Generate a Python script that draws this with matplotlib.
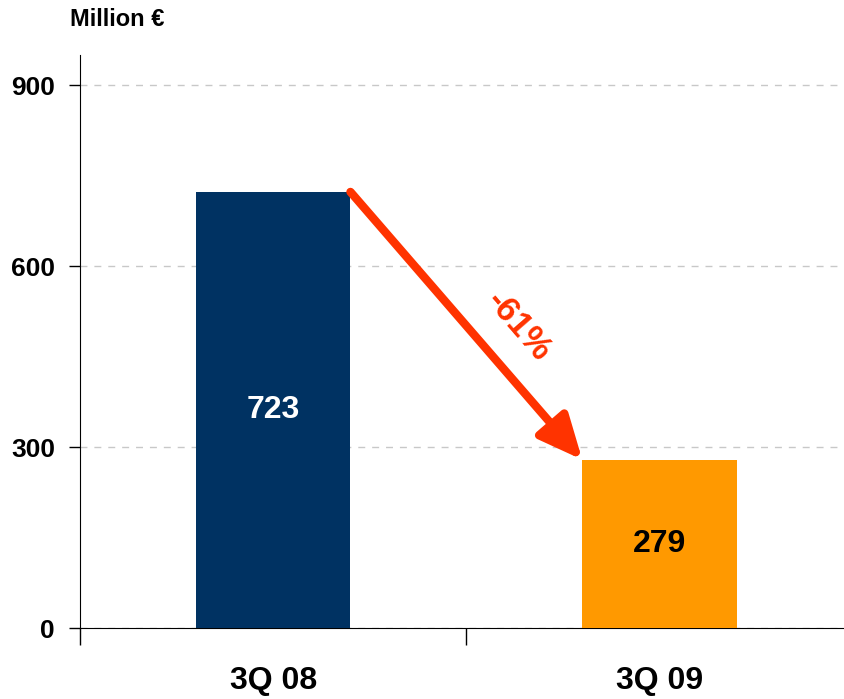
import matplotlib.pyplot as plt

# Данные
categories = ['3Q 08', '3Q 09']
values = [723, 279]
bar_colors = ['#003262', '#ff9900']
label_colors = ['white', 'black']
change_label = '-61%'
y_ticks = [0, 300, 600, 900]

plt.rcParams['font.family'] = ['Liberation Sans', 'DejaVu Sans']
plt.rcParams['font.weight'] = 'bold'

fig = plt.figure(figsize=(8.45, 6.99), dpi=100)
ax = fig.add_axes([80 / 845, 71 / 699, 765 / 845, 573 / 699])

x = list(range(len(categories)))
bars = ax.bar(x, values, width=0.40, color=bar_colors, zorder=3)

# Подписи внутри столбцов
for xi, v, c in zip(x, values, label_colors):
    ax.text(xi, v / 2, str(v), ha='center', va='center', fontsize=23,
            fontweight='bold', color=c, zorder=4)

# Стрелка изменения
ax.annotate('', xy=(x[1] - 0.2, values[1]), xytext=(x[0] + 0.2, values[0]),
            arrowprops=dict(arrowstyle='-|>,head_length=1.1,head_width=0.5',
                            lw=6, color='#ff3300', shrinkA=0, shrinkB=0,
                            mutation_scale=24), zorder=5)
ax.text(0.635, 500, change_label, rotation=-49, rotation_mode='anchor',
        ha='center', va='center', fontsize=25, fontweight='bold',
        color='#ff3300', zorder=5)

ax.set_xlim(-0.5, 1.48)
ax.set_ylim(0, 950)
ax.set_yticks(y_ticks)
ax.set_yticklabels([str(t) for t in y_ticks], fontsize=19, fontweight='bold')
ax.tick_params(axis='y', length=8, width=1, pad=10)

ax.set_xticks(x)
ax.set_xticklabels(categories, fontsize=23, fontweight='bold')
ax.tick_params(axis='x', which='major', length=0, pad=27)
ax.set_xticks([-0.5, 0.5], minor=True)
ax.tick_params(axis='x', which='minor', length=12, width=1, direction='out')

ax.grid(axis='y', linestyle=(0, (5, 5)), color='#c8c8c8', lw=1, zorder=0)
ax.spines['top'].set_visible(False)
ax.spines['right'].set_visible(False)

fig.text(70 / 845, 1 - 20 / 699, 'Million €', ha='left', va='center',
         fontsize=17, fontweight='bold')

fig.savefig('out.png', dpi=100)
